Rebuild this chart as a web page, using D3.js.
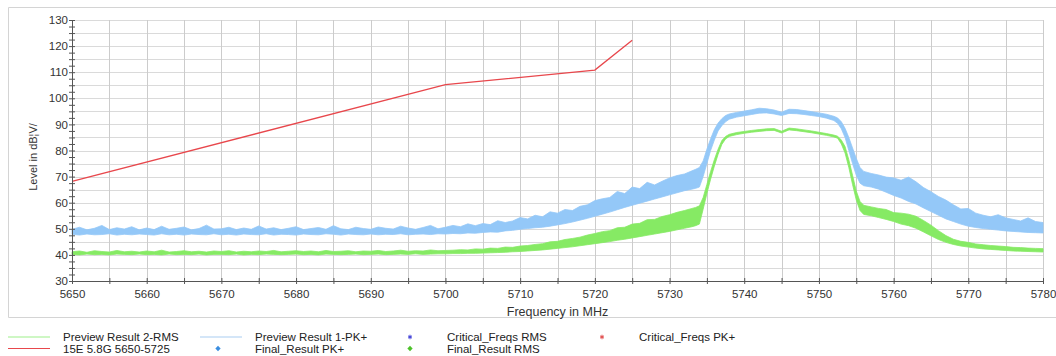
<!DOCTYPE html>
<html>
<head>
<meta charset="utf-8">
<script src="https://cdn.jsdelivr.net/npm/d3@7"></script>
<style>
  body { margin: 0; background: #fff; }
  svg { display: block; font-family: "Liberation Sans", Arial, sans-serif; }
</style>
</head>
<body>
<svg id="chart" width="1056" height="356"></svg>
<script>
// sampling frequencies (MHz) of the envelopes
const freqs = [
  5650,5651,5652,5653,5654,5655,5656,5657,5658,5659,
  5660,5661,5662,5663,5664,5665,5666,5667,5668,5669,
  5670,5671,5672,5673,5674,5675,5676,5677,5678,5679,
  5680,5681,5682,5683,5684,5685,5686,5687,5688,5689,
  5690,5691,5692,5693,5694,5695,5696,5697,5698,5699,
  5700,5701,5702,5703,5704,5705,5706,5707,5708,5709,
  5710,5711,5712,5713,5714,5715,5716,5717,5718,5719,
  5720,5721,5722,5723,5724,5725,5726,5727,5728,5729,
  5730,5731,5732,5733,
  5733.5,5734,5734.5,5735,5735.5,5736,5736.5,5737,5737.5,5738,
  5739,5740,5741,5742,5743,5744,5745,5746,5747,5748,5749,5750,5751,5752,
  5752.5,5753,5753.5,5754,5754.5,5755,5755.5,
  5756,5757,5758,5759,5760,5761,5762,5763,5764,5765,
  5766,5767,5768,5769,5770,5771,5772,5773,5774,5775,
  5776,5777,5778,5779,5780
];

// Preview Result 1-PK+ : lower / upper edge of the noise band (dBµV/m)
const pkLow = [
  47.9,47.6,48.0,47.7,47.8,48.1,47.6,47.9,47.7,48.0,
  47.8,47.6,48.1,47.7,47.9,47.6,48.0,47.8,47.7,48.1,
  47.7,47.9,47.6,48.0,47.8,47.7,48.1,47.6,47.9,47.8,
  47.6,48.0,47.8,47.7,48.1,47.9,47.6,48.0,47.8,47.7,
  48.0,47.7,47.9,47.8,48.1,47.7,47.9,48.0,47.8,48.1,
  48.0,48.2,48.1,48.4,48.3,48.6,48.8,48.7,49.2,49.4,
  49.8,50.1,50.4,50.6,51.0,51.5,52.0,52.6,53.3,54.0,
  54.8,55.6,56.4,57.3,58.2,59.0,59.8,60.6,61.4,62.2,
  63.0,63.8,64.6,65.2,
  65.5,66.0,70.0,75.0,80.0,84.0,87.5,89.5,91.0,92.0,
  92.8,93.3,93.8,94.3,94.4,94.0,93.4,94.2,94.1,93.8,93.4,93.0,92.4,91.5,
  90.4,88.3,85.0,80.0,75.0,70.5,67.5,
  66.5,66.0,65.2,64.0,62.8,61.8,60.5,59.5,58.0,56.6,
  55.2,53.8,52.8,51.8,51.0,50.5,50.1,49.8,49.5,49.2,
  49.0,48.8,48.6,48.5,48.4
];
const pkHigh = [
  49.8,50.6,49.6,50.2,51.3,49.7,50.4,49.9,50.8,49.6,
  50.3,49.7,51.0,49.8,50.2,50.7,49.6,50.1,51.4,49.9,
  50.0,50.6,49.7,50.3,49.8,51.1,49.9,50.4,49.7,50.2,
  50.8,49.7,50.1,50.5,49.8,51.2,50.0,49.7,50.6,50.1,
  49.8,50.7,50.2,49.9,51.0,50.3,49.8,50.5,51.3,50.0,
  50.6,51.3,50.8,51.9,51.2,52.0,51.6,53.1,52.4,53.0,
  54.3,53.8,55.2,54.6,56.5,56.0,57.4,57.0,58.6,59.2,
  60.8,61.5,62.0,64.3,63.5,66.0,65.4,67.8,66.8,68.2,
  69.5,70.4,71.0,72.2,
  72.8,73.5,76.0,80.5,84.5,88.0,90.5,92.2,93.4,94.0,
  94.6,95.1,95.6,96.2,96.0,95.5,94.7,95.8,95.7,95.3,94.9,94.4,93.9,93.1,
  92.5,91.0,88.5,85.0,81.0,77.0,73.5,
  72.0,71.2,70.6,69.8,69.5,68.6,69.8,68.0,65.8,64.2,
  62.4,61.0,59.2,57.6,57.8,56.0,55.2,54.6,55.4,54.2,
  53.6,53.0,54.2,52.8,52.4
];

// Preview Result 2-RMS : lower / upper edge of the noise band
const rmsLow = [
  40.2,40.0,40.3,40.1,40.2,40.0,40.3,40.2,40.1,40.3,
  40.1,40.2,40.0,40.3,40.1,40.2,40.1,40.3,40.0,40.2,
  40.2,40.1,40.3,40.0,40.2,40.1,40.3,40.2,40.1,40.2,
  40.3,40.1,40.2,40.0,40.3,40.2,40.1,40.2,40.3,40.1,
  40.2,40.3,40.1,40.2,40.3,40.2,40.4,40.2,40.3,40.4,
  40.4,40.5,40.5,40.6,40.6,40.7,40.8,40.9,41.0,41.2,
  41.3,41.5,41.7,41.9,42.2,42.5,42.8,43.1,43.5,43.9,
  44.3,44.7,45.1,45.6,46.0,46.5,47.0,47.5,48.0,48.5,
  49.0,49.6,50.2,50.8,
  51.2,51.8,57.5,63.5,69.0,74.0,78.5,82.3,84.4,85.4,
  86.1,86.6,87.0,87.3,87.6,87.7,86.7,87.9,87.6,87.2,86.8,86.3,85.8,85.2,
  84.7,82.5,79.0,73.5,67.0,61.0,57.0,
  55.5,55.0,54.3,53.6,52.8,51.8,51.2,50.2,48.8,47.3,
  45.9,44.8,44.0,43.4,43.0,42.6,42.3,42.1,41.9,41.7,
  41.5,41.4,41.3,41.2,41.1
];
const rmsHigh = [
  41.2,41.5,41.0,41.6,41.3,41.1,41.7,41.2,41.4,41.1,
  41.5,41.2,41.8,41.1,41.3,41.6,41.2,41.4,41.1,41.5,
  41.3,41.6,41.1,41.4,41.2,41.5,41.3,41.7,41.2,41.4,
  41.6,41.3,41.5,41.2,41.7,41.3,41.4,41.6,41.2,41.5,
  41.4,41.7,41.3,41.5,41.8,41.4,41.6,41.5,41.9,41.6,
  41.7,41.8,42.0,41.9,42.3,42.2,42.6,42.5,43.0,42.9,
  43.4,43.6,44.0,44.3,45.0,45.2,45.9,46.3,46.8,47.6,
  48.2,48.9,49.3,50.4,50.6,51.8,52.1,53.5,53.6,54.7,
  55.4,56.3,57.0,57.8,
  58.2,58.8,62.0,67.0,72.0,76.5,80.5,83.8,85.4,86.2,
  86.9,87.3,87.7,88.0,88.3,88.4,87.4,88.6,88.3,87.9,87.5,87.0,86.5,85.9,
  85.5,84.0,81.5,76.5,70.5,64.5,60.5,
  59.0,58.4,57.8,57.4,56.2,56.0,55.6,54.8,53.2,51.4,
  49.3,47.4,46.0,45.2,44.8,44.2,43.9,43.6,43.4,43.2,
  42.9,42.8,42.6,42.5,42.4
];

// limit line 15E 5.8G 5650-5725
const limitFreqs = [5650, 5700, 5720, 5725];
const limitLevels = [68.2, 105.2, 110.8, 122.2];

const xTicks = d3.range(5650, 5781, 5);
const yTicks = d3.range(30, 131, 2.5);

const legendItems = [
  { label: 'Preview Result 2-RMS', kind: 'line', color: '#9ef08a', col: 0, row: 0 },
  { label: 'Preview Result 1-PK+', kind: 'line', color: '#a9cdf2', col: 1, row: 0 },
  { label: 'Critical_Freqs RMS', kind: 'star', color: '#3b3bd6', col: 2, row: 0 },
  { label: 'Critical_Freqs PK+', kind: 'star', color: '#e04848', col: 3, row: 0 },
  { label: '15E 5.8G 5650-5725', kind: 'line', color: '#e8474c', col: 0, row: 1 },
  { label: 'Final_Result PK+', kind: 'diamond', color: '#3a8ee0', col: 1, row: 1 },
  { label: 'Final_Result RMS', kind: 'diamond', color: '#4cc22a', col: 2, row: 1 }
];

const svg = d3.select('#chart');
const margin = { top: 20, right: 13, bottom: 75, left: 72 };
const width = 1056 - margin.left - margin.right;
const height = 356 - margin.top - margin.bottom;

// outer panel frame
svg.append('path')
  .attr('d', 'M1056,7.5 H8.5 V317.5 H1056')
  .attr('fill', 'none')
  .attr('stroke', '#d4d4d4');

const x = d3.scaleLinear().domain([5650, 5780]).range([0, width]);
const y = d3.scaleLinear().domain([30, 130]).range([height, 0]);

const g = svg.append('g').attr('transform', `translate(${margin.left},${margin.top})`);

// grid
g.append('g').selectAll('line')
  .data(d3.range(35, 131, 5))
  .enter().append('line')
    .attr('x1', 0).attr('x2', width)
    .attr('y1', d => Math.round(y(d)) + 0.5).attr('y2', d => Math.round(y(d)) + 0.5)
    .attr('stroke', '#dadada');
g.append('g').selectAll('line')
  .data(d3.range(5655, 5781, 5))
  .enter().append('line')
    .attr('y1', 0).attr('y2', height)
    .attr('x1', d => Math.round(x(d)) + 0.5).attr('x2', d => Math.round(x(d)) + 0.5)
    .attr('stroke', '#cccccc');

// traces
const band = (lo, hi) => d3.area()
  .x((d, i) => x(freqs[i]))
  .y0((d, i) => y(lo[i]))
  .y1((d, i) => y(hi[i]));

g.append('path')
  .datum(freqs)
  .attr('d', band(rmsLow, rmsHigh))
  .attr('fill', '#86ea64')
  .attr('stroke', '#86ea64')
  .attr('stroke-width', 0.8);

g.append('path')
  .datum(freqs)
  .attr('d', band(pkLow, pkHigh))
  .attr('fill', '#94c8f8')
  .attr('stroke', '#94c8f8')
  .attr('stroke-width', 0.8);

const limitLine = d3.line()
  .x((d, i) => x(limitFreqs[i]))
  .y(d => y(d));

g.append('path')
  .datum(limitLevels)
  .attr('d', limitLine)
  .attr('fill', 'none')
  .attr('stroke', '#e8474c')
  .attr('stroke-width', 1.3);

// axes
const xAxis = g.append('g')
  .attr('transform', `translate(0,${height})`)
  .call(d3.axisBottom(x)
    .tickValues(xTicks)
    .tickSize(3)
    .tickPadding(6)
    .tickFormat(d => d % 10 === 0 ? d : ''));

const yAxis = g.append('g')
  .call(d3.axisLeft(y)
    .tickValues(yTicks)
    .tickSize(3)
    .tickPadding(2)
    .tickFormat(d => d % 10 === 0 ? d : ''));

[xAxis, yAxis].forEach(ax => {
  ax.select('.domain').attr('stroke', '#555');
  ax.selectAll('.tick line').attr('stroke', '#555');
  ax.selectAll('.tick text')
    .attr('fill', '#333')
    .style('font-size', '11.5px')
    .style('font-family', '"Liberation Sans", Arial, sans-serif');
});
// ticks cross the axis line
xAxis.selectAll('.tick line').attr('y1', -3).attr('y2', 3);
yAxis.selectAll('.tick line').attr('x1', -3).attr('x2', 3);
yAxis.selectAll('.tick text').attr('x', -4);

// axis titles
g.append('text')
  .attr('x', width / 2)
  .attr('y', height + 35)
  .attr('text-anchor', 'middle')
  .attr('fill', '#333')
  .style('font-size', '12.5px')
  .text('Frequency in MHz');

svg.append('text')
  .attr('transform', 'translate(37,157) rotate(-90)')
  .attr('text-anchor', 'middle')
  .attr('fill', '#333')
  .style('font-size', '11px')
  .text('Level in dB¦V/');

// legend
const colX = [8, 200, 392, 584];
const rowY = [337, 348.5];
const legend = svg.append('g');
const star = d3.symbol().type(d3.symbolAsterisk).size(14);
const diamond = d3.symbol().type(d3.symbolSquare).size(14);

legendItems.forEach(item => {
  const lx = colX[item.col];
  const ly = rowY[item.row];
  if (item.kind === 'line') {
    legend.append('line')
      .attr('x1', lx).attr('x2', lx + 42)
      .attr('y1', ly).attr('y2', ly)
      .attr('stroke', item.color)
      .attr('stroke-width', 1.2);
  } else if (item.kind === 'star') {
    legend.append('path')
      .attr('transform', `translate(${lx + 18},${ly})`)
      .attr('d', star)
      .attr('fill', 'none')
      .attr('stroke', item.color)
      .attr('stroke-width', 1);
  } else {
    legend.append('path')
      .attr('transform', `translate(${lx + 18},${ly}) rotate(45)`)
      .attr('d', diamond)
      .attr('fill', item.color);
  }
  legend.append('text')
    .attr('x', lx + 55)
    .attr('y', ly)
    .attr('dy', '0.35em')
    .attr('fill', '#222')
    .style('font-size', '11.5px')
    .text(item.label);
});
</script>
</body>
</html>
